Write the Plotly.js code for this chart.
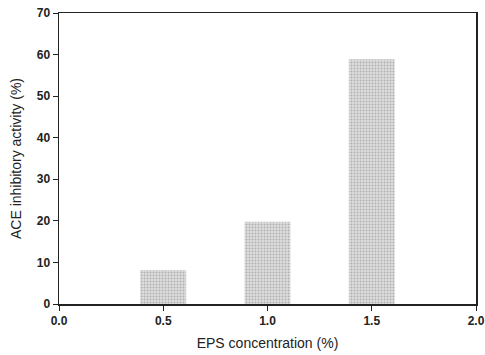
<!DOCTYPE html>
<html><head><meta charset="utf-8">
<script src="https://cdn.plot.ly/plotly-3.0.1.min.js"></script>
<style>html,body{margin:0;padding:0;background:#fff;}#chart{width:485px;height:355px;}</style>
</head><body><div id="chart"></div>
<script>
const concentrations = [0.5, 1.0, 1.5];
const aceInhibition = [8.2, 19.8, 58.9];
const xTickVals = [0.0, 0.5, 1.0, 1.5, 2.0];
const xTickText = ["0.0", "0.5", "1.0", "1.5", "2.0"];
const yTickVals = [0, 10, 20, 30, 40, 50, 60, 70];

const trace = {
  type: 'bar',
  x: concentrations,
  y: aceInhibition,
  width: 0.22,
  marker: {
    color: '#d6d6d6',
    line: {width: 0},
    pattern: {shape: '.', fgcolor: '#b0b0b0', bgcolor: '#dedede', size: 3, solidity: 0.35}
  },
  hoverinfo: 'none'
};

const axisFont = {family: 'Liberation Sans, Arial, sans-serif', size: 12, color: '#222', weight: 'bold'};
const titleFont = {family: 'Liberation Sans, Arial, sans-serif', size: 14, color: '#222'};
const layout = {
  width: 485, height: 355,
  margin: {l: 59, r: 9, t: 13, b: 51},
  paper_bgcolor: '#fff', plot_bgcolor: '#fff',
  showlegend: false,
  xaxis: {
    range: [0, 2], tickvals: xTickVals, ticktext: xTickText,
    ticks: 'outside', ticklen: 5, tickwidth: 1, tickcolor: '#222',
    showline: true, linecolor: '#222', linewidth: 1.5, mirror: true,
    showgrid: false, zeroline: false,
    tickfont: axisFont,
    title: {text: 'EPS concentration (%)', font: titleFont, standoff: 11}
  },
  yaxis: {
    range: [0, 70], tickvals: yTickVals,
    ticks: 'outside', ticklen: 5, tickwidth: 1, tickcolor: '#222',
    showline: true, linecolor: '#222', linewidth: 1.5, mirror: true,
    showgrid: false, zeroline: false,
    tickfont: axisFont,
    title: {text: 'ACE inhibitory activity (%)', font: titleFont, standoff: 12}
  }
};
Plotly.newPlot('chart', [trace], layout, {staticPlot: true, displayModeBar: false});
</script></body></html>
